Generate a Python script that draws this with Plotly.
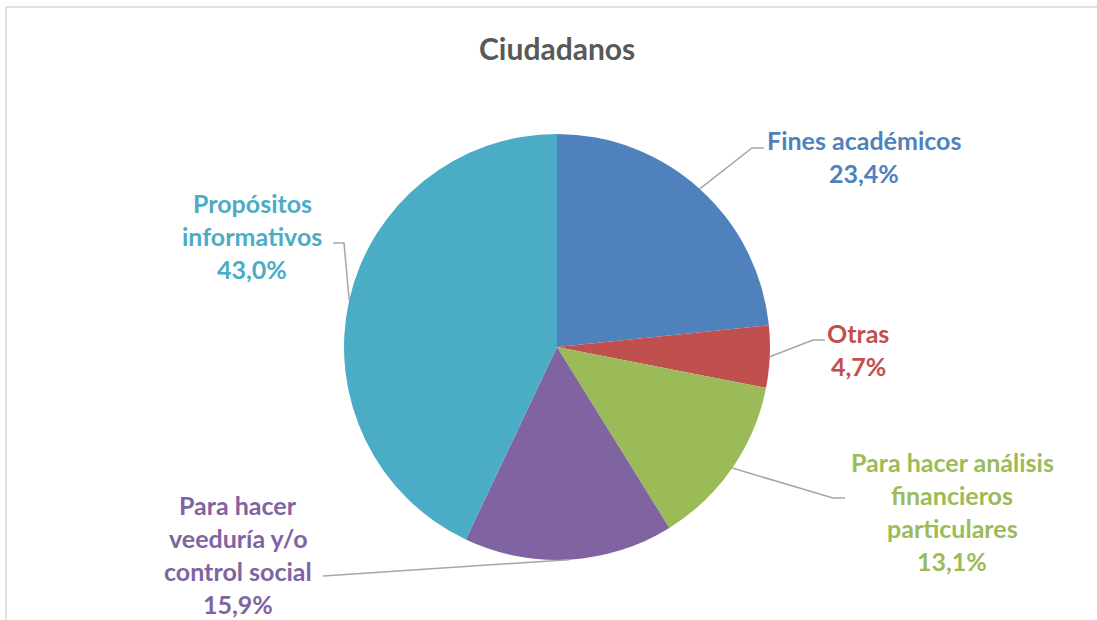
import math
import plotly.graph_objects as go

# data
categories = ["Fines académicos", "Otras", "Para hacer análisis financieros particulares",
              "Para hacer veeduría y/o control social", "Propósitos informativos"]
label_lines = [["Fines académicos"], ["Otras"], ["Para hacer análisis", "financieros", "particulares"],
               ["Para hacer", "veeduría y/o", "control social"], ["Propósitos", "informativos"]]
values = [23.4, 4.7, 13.1, 15.9, 43.0]
colors = ["#4F81BD", "#C0504D", "#9BBB59", "#8064A2", "#4BACC6"]

W, H = 1097, 620
CX, CY, R = 557, 347, 213

# label placement (pixels): text centre x, first line centre y, leader elbow, leader end
label_pos = [(864, 140), (858, 333), (952, 462), (238, 505), (252, 203)]
elbows = [(752, 148), (813, 340), (833, 498), (323, 576), (344, 243)]
line_ends = [(764, 148), (825, 340), (845, 498), (323, 576), (333, 243)]
LINE_H = 33
FONT = "Lato"


def px(x):
    return x / W


def py(y):
    return 1 - y / H


fig = go.Figure()
fig.add_trace(go.Pie(
    values=values,
    labels=categories,
    marker=dict(colors=colors, line=dict(width=0)),
    sort=False,
    direction='clockwise',
    rotation=0,
    textinfo='none',
    hoverinfo='label+percent',
    showlegend=False,
    domain=dict(x=[px(CX - R), px(CX + R)], y=[py(CY + R), py(CY - R)]),
))

shapes = []
annotations = []
total = sum(values)
cum = 0
for i, v in enumerate(values):
    mid = (cum + v / 2) / total * 2 * math.pi
    cum += v
    sx = CX + R * math.sin(mid)
    sy = CY - R * math.cos(mid)
    ex, ey = elbows[i]
    lx, ly = line_ends[i]
    shapes.append(dict(type='path', xref='paper', yref='paper',
                       path=f"M {px(sx)} {py(sy)} L {px(ex)} {py(ey)} L {px(lx)} {py(ly)}",
                       line=dict(color="#A6A6A6", width=1.5)))
    lines = label_lines[i] + [f"{v:.1f}".replace('.', ',') + "%"]
    tx, ty = label_pos[i]
    for j, t in enumerate(lines):
        annotations.append(dict(x=px(tx), y=py(ty + j * LINE_H), xref='paper', yref='paper',
                                text=f"<b>{t}</b>", showarrow=False,
                                xanchor='center', yanchor='middle',
                                font=dict(family=FONT, size=25, color=colors[i])))

# outer frame of the chart area
shapes.append(dict(type='line', xref='paper', yref='paper', x0=px(6), x1=1, y0=py(7), y1=py(7),
                   line=dict(color="#D9D9D9", width=1.5)))
shapes.append(dict(type='line', xref='paper', yref='paper', x0=px(6), x1=px(6), y0=py(7), y1=0,
                   line=dict(color="#D9D9D9", width=1.5)))

annotations.append(dict(x=px(557), y=py(48), xref='paper', yref='paper', text="<b>Ciudadanos</b>",
                        showarrow=False, xanchor='center', yanchor='middle',
                        font=dict(family=FONT, size=30, color="#595959")))

fig.update_layout(
    width=W,
    height=H,
    margin=dict(l=0, r=0, t=0, b=0),
    paper_bgcolor="white",
    plot_bgcolor="white",
    shapes=shapes,
    annotations=annotations,
)

# drop the default page margin so the figure sits at the window's corner
fig.write_html("out.html", config={'displayModeBar': False},
               post_script="document.body.style.margin='0';document.body.style.overflow='hidden';")
